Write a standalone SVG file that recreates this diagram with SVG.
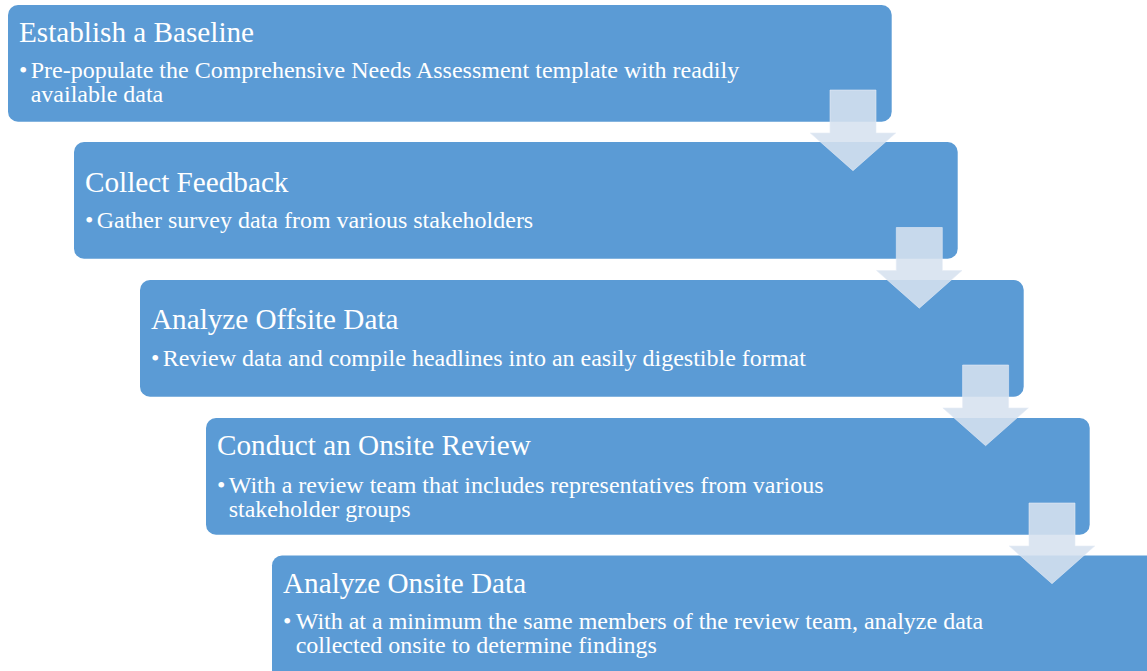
<svg xmlns="http://www.w3.org/2000/svg" width="1147" height="671" viewBox="0 0 1147 671">
<style>
.box{fill:#5b9bd5}
.t{font-family:'Liberation Serif','Times New Roman',serif;fill:#ffffff}
.h{font-size:29.2px}
.b{font-size:24px}
.arr{fill:#d6e1ef;fill-opacity:0.88;stroke:#e4ebf5;stroke-opacity:0.6;stroke-width:1}
</style>
<rect width="1147" height="671" fill="#ffffff"/>
<g id="node1">
<rect class="box" x="8" y="5" width="883.7" height="116.7" rx="10"/>
<text class="t h" x="19" y="41.7">Establish a Baseline</text>
<text class="t b" x="19" y="78">•</text>
<text class="t b" x="30.7" y="78">Pre-populate the Comprehensive Needs Assessment template with readily</text>
<text class="t b" x="30.7" y="102">available data</text>
</g>
<g id="node2">
<rect class="box" x="74" y="142" width="883.7" height="116.7" rx="10"/>
<text class="t h" x="85" y="191.7">Collect Feedback</text>
<text class="t b" x="85" y="228.3">•</text>
<text class="t b" x="96.7" y="228.3">Gather survey data from various stakeholders</text>
</g>
<g id="node3">
<rect class="box" x="140" y="280" width="883.7" height="116.7" rx="10"/>
<text class="t h" x="151" y="329">Analyze Offsite Data</text>
<text class="t b" x="151" y="366.3">•</text>
<text class="t b" x="162.7" y="366.3">Review data and compile headlines into an easily digestible format</text>
</g>
<g id="node4">
<rect class="box" x="206" y="418" width="883.7" height="116.7" rx="10"/>
<text class="t h" x="217" y="455">Conduct an Onsite Review</text>
<text class="t b" x="217" y="492.5">•</text>
<text class="t b" x="228.7" y="492.5">With a review team that includes representatives from various</text>
<text class="t b" x="228.7" y="516.5">stakeholder groups</text>
</g>
<g id="node5">
<rect class="box" x="272" y="555.5" width="900" height="130" rx="10"/>
<text class="t h" x="283" y="592.7">Analyze Onsite Data</text>
<text class="t b" x="283" y="628.5">•</text>
<text class="t b" x="295.7" y="628.5">With at a minimum the same members of the review team, analyze data</text>
<text class="t b" x="295.7" y="652.5">collected onsite to determine findings</text>
</g>
<g id="connectors">
<path class="arr" d="M830,90 H876 V133 H895.7 L853,170.7 L810.3,133 H830 Z"/>
<path class="arr" d="M896.3,227.5 H942.3 V270.5 H962 L919.3,308.2 L876.6,270.5 H896.3 Z"/>
<path class="arr" d="M962.6,365 H1008.6 V408 H1028.3 L985.6,445.7 L942.9,408 H962.6 Z"/>
<path class="arr" d="M1029,503 H1075 V546 H1094.7 L1052,583.7 L1009.3,546 H1029 Z"/>
</g>
</svg>
